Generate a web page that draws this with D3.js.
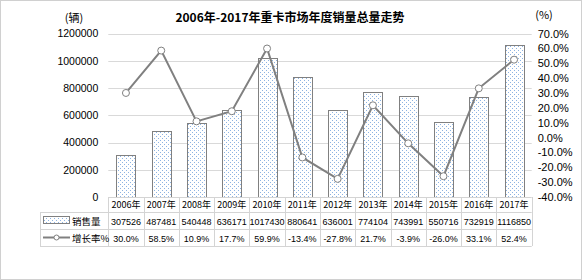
<!DOCTYPE html>
<html><head><meta charset="utf-8">
<script src="https://cdn.jsdelivr.net/npm/d3@7"></script>
<style>
body{margin:0;background:#fff;}
svg{display:block;font-family:"Liberation Sans","Noto Sans CJK SC",sans-serif;}
</style></head>
<body><svg id="c" width="582" height="280"></svg>
<script>
const years = ["2006年","2007年","2008年","2009年","2010年","2011年","2012年","2013年","2014年","2015年","2016年","2017年"];
const sales = [307526,487481,540448,636171,1017430,880641,636001,774104,743991,550716,732919,1116850];
const growth = [30.0,58.5,10.9,17.7,59.9,-13.4,-27.8,21.7,-3.9,-26.0,33.1,52.4];
const leftTicks = [0,200000,400000,600000,800000,1000000,1200000];
const rightTicks = [-40,-30,-20,-10,0,10,20,30,40,50,60,70];
const seriesNames = ["销售量","增长率%"];
const title = "2006年-2017年重卡市场年度销量总量走势";

const svg = d3.select("#c");
const L = 108.3, R = 531.7, T = 33.5, B = 197;
const cjk = "'Noto Sans CJK SC',sans-serif";

// outer border
svg.append("rect").attr("x",0.5).attr("y",0.5).attr("width",581).attr("height",279)
  .attr("fill","#fff").attr("stroke","#d0d0d0");

const defs = svg.append("defs");
const pat = defs.append("pattern").attr("id","dots").attr("patternUnits","userSpaceOnUse")
  .attr("width",4).attr("height",4);
pat.append("rect").attr("width",4).attr("height",4).attr("fill","#ffffff");
pat.append("rect").attr("x",0).attr("y",0).attr("width",1).attr("height",1).attr("fill","#8db3e2");
pat.append("rect").attr("x",2).attr("y",2).attr("width",1).attr("height",1).attr("fill","#8db3e2");

const x = d3.scaleBand().domain(years).range([L,R]).paddingInner(0.46).paddingOuter(0.23);
const xc = d3.scaleBand().domain(years).range([L,R]);
const y = d3.scaleLinear().domain([0,1200000]).range([B,T]);
const y2 = d3.scaleLinear().domain([-40,70]).range([B,T]);

// gridlines
svg.append("g").selectAll("line").data(leftTicks.slice(1)).join("line")
  .attr("x1",L).attr("x2",R).attr("y1",d=>Math.round(y(d))+0.5).attr("y2",d=>Math.round(y(d))+0.5)
  .attr("stroke","#d9d9d9");

// left axis
const ga = svg.append("g").attr("transform",`translate(${L},0)`)
  .call(d3.axisLeft(y).tickValues(leftTicks).tickFormat(d3.format("d")).tickSize(0).tickPadding(10));
ga.select(".domain").remove();
ga.selectAll("text").attr("font-size",10.5).attr("fill","#000").attr("font-family","Liberation Sans");

// right axis
const gb = svg.append("g").attr("transform",`translate(${R},0)`)
  .call(d3.axisRight(y2).tickValues(rightTicks).tickFormat(d=>d.toFixed(1)+"%").tickSize(0).tickPadding(6));
gb.select(".domain").remove();
gb.selectAll("text").attr("font-size",11).attr("fill","#000").attr("font-family","Liberation Sans");

// bars
svg.append("g").selectAll("rect").data(sales).join("rect")
  .attr("x",(d,i)=>Math.round(x(years[i]))+0.5).attr("width",Math.round(x.bandwidth()))
  .attr("y",d=>Math.round(y(d))+0.5).attr("height",d=>B-Math.round(y(d)))
  .attr("fill","url(#dots)").attr("stroke","#808080").attr("stroke-width",1);

// line
const line = d3.line().x((d,i)=>xc(years[i])+xc.bandwidth()/2).y(d=>y2(d));
svg.append("path").datum(growth).attr("d",line).attr("fill","none")
  .attr("stroke","#808080").attr("stroke-width",2);
svg.append("g").selectAll("circle").data(growth).join("circle")
  .attr("cx",(d,i)=>xc(years[i])+xc.bandwidth()/2).attr("cy",d=>y2(d)).attr("r",3.5)
  .attr("fill","#fff").attr("stroke","#808080").attr("stroke-width",1);

// data table
const rows = [B, 212, 229, 245.5];
const tb = svg.append("g").attr("stroke","#d4d4d4").attr("stroke-width",1);
tb.append("line").attr("x1",L).attr("x2",R).attr("y1",B+0.5).attr("y2",B+0.5);
[1,2,3].forEach(k=>{
  tb.append("line").attr("x1",40).attr("x2",R).attr("y1",Math.round(rows[k])+0.5).attr("y2",Math.round(rows[k])+0.5);
});
years.forEach((yr,i)=>{
  tb.append("line").attr("x1",Math.round(xc(yr))+0.5).attr("x2",Math.round(xc(yr))+0.5).attr("y1",B).attr("y2",246);
});
tb.append("line").attr("x1",Math.round(R)+0.5).attr("x2",Math.round(R)+0.5).attr("y1",B).attr("y2",246);
tb.append("line").attr("x1",40.5).attr("x2",40.5).attr("y1",212).attr("y2",246);

const tt = svg.append("g").attr("font-size",9).attr("text-anchor","middle").attr("fill","#000");
years.forEach((yr,i)=>{
  const cx = xc(yr)+xc.bandwidth()/2;
  tt.append("text").attr("x",cx).attr("y",208).text(yr).attr("font-family",cjk);
  tt.append("text").attr("x",cx).attr("y",224.5).text(sales[i]);
  tt.append("text").attr("x",cx).attr("y",241.5).text(growth[i].toFixed(1)+"%");
});

// legend cells
svg.append("rect").attr("x",43.5).attr("y",216.5).attr("width",26).attr("height",7)
  .attr("fill","url(#dots)").attr("stroke","#808080");
svg.append("text").attr("x",72).attr("y",224.5).attr("font-size",9.5).attr("font-family",cjk).text(seriesNames[0]);
svg.append("line").attr("x1",43).attr("x2",70).attr("y1",237.5).attr("y2",237.5).attr("stroke","#808080").attr("stroke-width",2);
svg.append("circle").attr("cx",56.5).attr("cy",237.5).attr("r",2.5).attr("fill","#fff").attr("stroke","#808080");
svg.append("text").attr("x",72).attr("y",241.5).attr("font-size",9.5).attr("font-family",cjk).text(seriesNames[1]);

// titles
svg.append("text").attr("x",290).attr("y",22).attr("text-anchor","middle").attr("font-size",12)
  .attr("font-weight","bold").attr("font-family",cjk).text(title);
svg.append("text").attr("x",74).attr("y",22).attr("text-anchor","middle").attr("font-size",11)
  .attr("font-family",cjk).text("(辆)");
svg.append("text").attr("x",544).attr("y",19).attr("text-anchor","middle").attr("font-size",11)
  .attr("font-family",cjk).text("(%)");
</script></body></html>
